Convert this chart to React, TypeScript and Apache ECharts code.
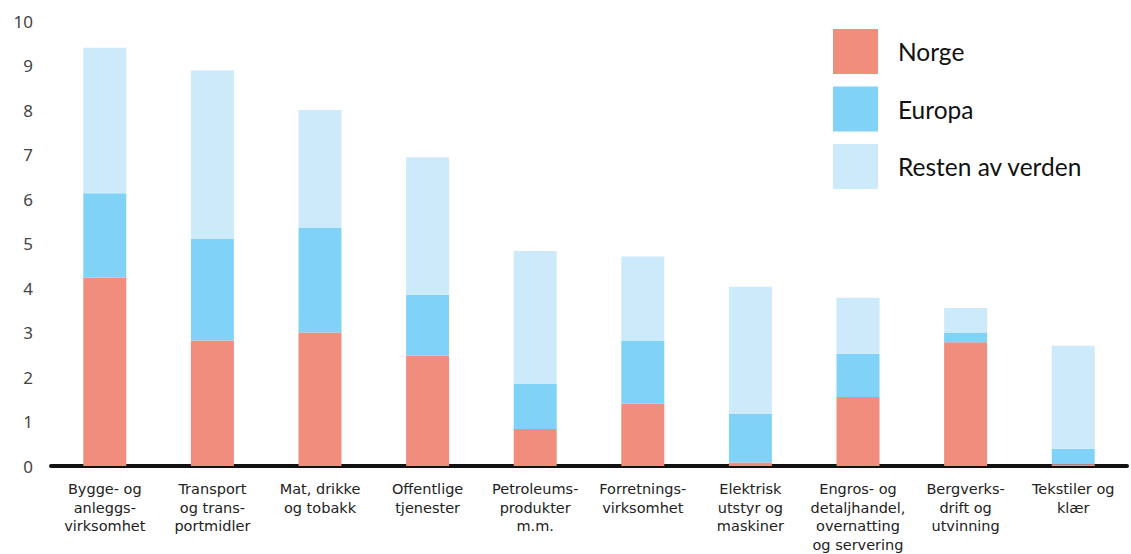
import React, { useEffect, useRef } from "react";
import * as echarts from "echarts";

// Sectors along the x axis
const categories = [
  "Bygge- og\nanleggs-\nvirksomhet",
  "Transport\nog trans-\nportmidler",
  "Mat, drikke\nog tobakk",
  "Offentlige\ntjenester",
  "Petroleums-\nprodukter\nm.m.",
  "Forretnings-\nvirksomhet",
  "Elektrisk\nutstyr og\nmaskiner",
  "Engros- og\ndetaljhandel,\novernatting\nog servering",
  "Bergverks-\ndrift og\nutvinning",
  "Tekstiler og\nklær",
];

// Stacked contributions per region
const norge = [4.23, 2.82, 3.0, 2.48, 0.83, 1.4, 0.08, 1.55, 2.78, 0.04];
const europa = [1.9, 2.28, 2.36, 1.37, 1.01, 1.42, 1.09, 0.97, 0.22, 0.35];
const restenAvVerden = [3.27, 3.79, 2.64, 3.09, 2.99, 1.89, 2.86, 1.26, 0.55, 2.31];

const yTicks = [0, 1, 2, 3, 4, 5, 6, 7, 8, 9, 10];

const seriesNames = ["Norge", "Europa", "Resten av verden"];
const seriesColors = ["#F08D7D", "#80D3F6", "#CCEAFA"];

export default function App() {
  const ref = useRef<HTMLDivElement>(null);

  useEffect(() => {
    document.body.style.margin = "0";
    if (!ref.current) return;
    const chart = echarts.init(ref.current, null, { renderer: "svg" });
    const data = [norge, europa, restenAvVerden];
    chart.setOption({
      animation: false,
      backgroundColor: "#ffffff",
      textStyle: { fontFamily: "Noto Sans" },
      grid: { left: 51, right: 4, top: 21, bottom: 86, containLabel: false },
      legend: {
        orient: "vertical",
        left: 828,
        top: 24,
        itemWidth: 45,
        itemHeight: 45,
        itemGap: 12.5,
        icon: "rect",
        data: seriesNames,
        textStyle: {
          fontFamily: "Lato",
          fontSize: 24.5,
          color: "#111",
          padding: [0, 0, 0, 15],
        },
      },
      xAxis: {
        type: "category",
        data: categories,
        offset: 3,
        axisLine: { show: true, lineStyle: { color: "#111", width: 4 } },
        axisTick: { show: false },
        axisLabel: {
          interval: 0,
          margin: 11,
          fontSize: 14.5,
          lineHeight: 18.5,
          color: "#222",
          fontFamily: "DejaVu Sans",
        },
      },
      yAxis: {
        type: "value",
        min: yTicks[0],
        max: yTicks[yTicks.length - 1],
        interval: 1,
        axisLine: { show: false },
        axisTick: { show: false },
        splitLine: { show: false },
        axisLabel: {
          margin: 18,
          fontSize: 17,
          color: "#444",
          fontFamily: "Noto Sans",
        },
      },
      series: seriesNames.map((name, i) => ({
        name,
        type: "bar",
        stack: "total",
        barWidth: 43,
        itemStyle: { color: seriesColors[i] },
        data: data[i],
      })),
    });
    return () => chart.dispose();
  }, []);

  return <div ref={ref} style={{ width: 1131, height: 554 }} />;
}
